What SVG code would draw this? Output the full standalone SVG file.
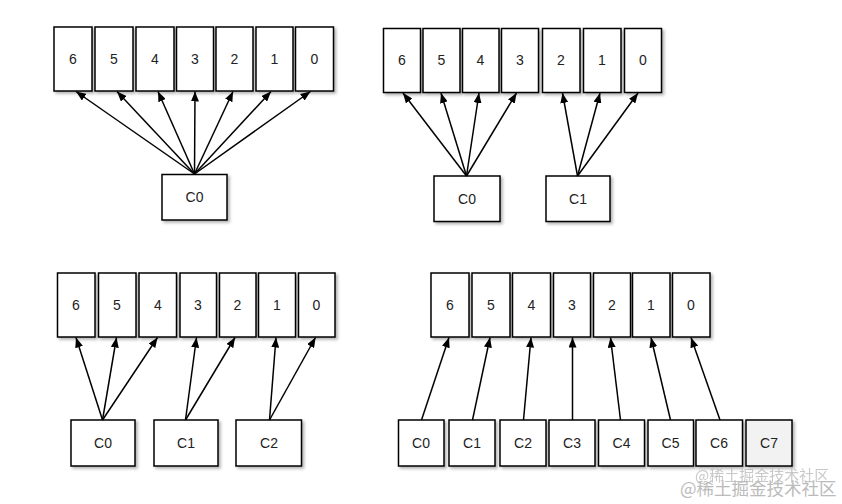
<svg xmlns="http://www.w3.org/2000/svg" width="842" height="504" viewBox="0 0 842 504">
<defs>
<filter id="sh" x="-20%" y="-20%" width="150%" height="150%">
<feDropShadow dx="2" dy="2" stdDeviation="1.5" flood-color="#000" flood-opacity="0.3"/>
</filter>
<marker id="ah" viewBox="0 0 10 8" refX="10" refY="4" markerWidth="10" markerHeight="8" markerUnits="userSpaceOnUse" orient="auto">
<path d="M0,0 L10,4 L0,8 Z" fill="#000"/>
</marker>
</defs>
<style>
.b{fill:#fff;stroke:#000;stroke-width:1.5;filter:url(#sh)}
.g{fill:#f2f2f2;stroke:#000;stroke-width:1.5;filter:url(#sh)}
.t{font-family:"Liberation Sans",Arial,sans-serif;font-size:14px;fill:#222;text-anchor:middle}
.c line{stroke:#000;stroke-width:1.5;marker-end:url(#ah)}
.w{font-family:"Noto Sans CJK SC",sans-serif;fill:#bbb}
</style>
<rect width="842" height="504" fill="#fff"/>

<!-- Panel 1 -->
<g id="p1-6"><rect class="b" x="54" y="27" width="38" height="64"/><text class="t" x="73" y="64">6</text></g>
<g id="p1-5"><rect class="b" x="95" y="27" width="38" height="64"/><text class="t" x="114" y="64">5</text></g>
<g id="p1-4"><rect class="b" x="136" y="27" width="38" height="64"/><text class="t" x="155" y="64">4</text></g>
<g id="p1-3"><rect class="b" x="176.5" y="27" width="37" height="64"/><text class="t" x="195" y="64">3</text></g>
<g id="p1-2"><rect class="b" x="216" y="27" width="37" height="64"/><text class="t" x="234.5" y="64">2</text></g>
<g id="p1-1"><rect class="b" x="256" y="27" width="37" height="64"/><text class="t" x="274.5" y="64">1</text></g>
<g id="p1-0"><rect class="b" x="295.5" y="27" width="38" height="64"/><text class="t" x="314.5" y="64">0</text></g>
<g id="p1-C0"><rect class="b" x="162" y="174.5" width="65" height="45.5"/><text class="t" x="194.5" y="202">C0</text></g>

<!-- Panel 2 -->
<g id="p2-6"><rect class="b" x="383.5" y="28.5" width="37" height="64"/><text class="t" x="402" y="65">6</text></g>
<g id="p2-5"><rect class="b" x="423" y="28.5" width="37" height="64"/><text class="t" x="441.5" y="65">5</text></g>
<g id="p2-4"><rect class="b" x="462.5" y="28.5" width="36.5" height="64"/><text class="t" x="480.5" y="65">4</text></g>
<g id="p2-3"><rect class="b" x="501.5" y="28.5" width="37" height="64"/><text class="t" x="520" y="65">3</text></g>
<g id="p2-2"><rect class="b" x="542.5" y="28.5" width="37.5" height="64"/><text class="t" x="561" y="65">2</text></g>
<g id="p2-1"><rect class="b" x="583.5" y="28.5" width="37.5" height="64"/><text class="t" x="602" y="65">1</text></g>
<g id="p2-0"><rect class="b" x="624.5" y="28.5" width="37" height="64"/><text class="t" x="643" y="65">0</text></g>
<g id="p2-C0"><rect class="b" x="434" y="176" width="66" height="45.5"/><text class="t" x="467" y="204">C0</text></g>
<g id="p2-C1"><rect class="b" x="546" y="176" width="64" height="45.5"/><text class="t" x="578" y="204">C1</text></g>

<!-- Panel 3 -->
<g id="p3-6"><rect class="b" x="57.5" y="273" width="37.5" height="64"/><text class="t" x="76" y="310">6</text></g>
<g id="p3-5"><rect class="b" x="98.5" y="273" width="37.5" height="64"/><text class="t" x="117" y="310">5</text></g>
<g id="p3-4"><rect class="b" x="139" y="273" width="37.5" height="64"/><text class="t" x="158" y="310">4</text></g>
<g id="p3-3"><rect class="b" x="180" y="273" width="36.5" height="64"/><text class="t" x="198" y="310">3</text></g>
<g id="p3-2"><rect class="b" x="219.5" y="273" width="36.5" height="64"/><text class="t" x="237.5" y="310">2</text></g>
<g id="p3-1"><rect class="b" x="258.5" y="273" width="37" height="64"/><text class="t" x="277" y="310">1</text></g>
<g id="p3-0"><rect class="b" x="298.5" y="273" width="36.5" height="64"/><text class="t" x="316.5" y="310">0</text></g>
<g id="p3-C0"><rect class="b" x="71" y="420" width="64" height="46"/><text class="t" x="103" y="448">C0</text></g>
<g id="p3-C1"><rect class="b" x="154" y="420" width="64" height="46"/><text class="t" x="186" y="448">C1</text></g>
<g id="p3-C2"><rect class="b" x="236" y="420" width="65.5" height="46"/><text class="t" x="269" y="448">C2</text></g>

<!-- Panel 4 -->
<g id="p4-6"><rect class="b" x="431" y="273" width="38" height="64"/><text class="t" x="450" y="310">6</text></g>
<g id="p4-5"><rect class="b" x="472" y="273" width="38" height="64"/><text class="t" x="491" y="310">5</text></g>
<g id="p4-4"><rect class="b" x="512.5" y="273" width="38" height="64"/><text class="t" x="531.5" y="310">4</text></g>
<g id="p4-3"><rect class="b" x="553.5" y="273" width="37" height="64"/><text class="t" x="572" y="310">3</text></g>
<g id="p4-2"><rect class="b" x="593.5" y="273" width="37" height="64"/><text class="t" x="612" y="310">2</text></g>
<g id="p4-1"><rect class="b" x="632.5" y="273" width="37.5" height="64"/><text class="t" x="651" y="310">1</text></g>
<g id="p4-0"><rect class="b" x="672.5" y="273" width="37.5" height="64"/><text class="t" x="691" y="310">0</text></g>
<g id="p4-C0"><rect class="b" x="398.5" y="420" width="45.5" height="46"/><text class="t" x="421" y="448">C0</text></g>
<g id="p4-C1"><rect class="b" x="449" y="420" width="46" height="46"/><text class="t" x="472" y="448">C1</text></g>
<g id="p4-C2"><rect class="b" x="500" y="420" width="46" height="46"/><text class="t" x="523" y="448">C2</text></g>
<g id="p4-C3"><rect class="b" x="549" y="420" width="46" height="46"/><text class="t" x="572" y="448">C3</text></g>
<g id="p4-C4"><rect class="b" x="598.5" y="420" width="46" height="46"/><text class="t" x="621.5" y="448">C4</text></g>
<g id="p4-C5"><rect class="b" x="648" y="420" width="45.5" height="46"/><text class="t" x="670.5" y="448">C5</text></g>
<g id="p4-C6"><rect class="b" x="696" y="420" width="46.5" height="46"/><text class="t" x="719" y="448">C6</text></g>
<g id="p4-C7"><rect class="g" x="746" y="420" width="46" height="46"/><text class="t" x="769" y="448">C7</text></g>

<g id="connectors" class="c">
<line x1="194.5" y1="174" x2="76" y2="91.5"/>
<line x1="194.5" y1="174" x2="117" y2="91.5"/>
<line x1="194.5" y1="174" x2="158" y2="91.5"/>
<line x1="194.5" y1="174" x2="195" y2="91.5"/>
<line x1="194.5" y1="174" x2="233" y2="91.5"/>
<line x1="194.5" y1="174" x2="271" y2="91.5"/>
<line x1="194.5" y1="174" x2="310.5" y2="91.5"/>

<line x1="466.5" y1="176" x2="403" y2="93"/>
<line x1="466.5" y1="176" x2="441" y2="93"/>
<line x1="466.5" y1="176" x2="479" y2="93"/>
<line x1="466.5" y1="176" x2="516.5" y2="93"/>
<line x1="577.5" y1="176" x2="562.5" y2="93"/>
<line x1="577.5" y1="176" x2="600" y2="93"/>
<line x1="577.5" y1="176" x2="638" y2="93"/>

<line x1="102.5" y1="420" x2="76" y2="337.5"/>
<line x1="102.5" y1="420" x2="116.5" y2="337.5"/>
<line x1="102.5" y1="420" x2="157.5" y2="337.5"/>
<line x1="185.5" y1="420" x2="196.5" y2="337.5"/>
<line x1="185.5" y1="420" x2="235" y2="337.5"/>
<line x1="269.5" y1="420" x2="276" y2="337.5"/>
<line x1="269.5" y1="420" x2="315.5" y2="337.5"/>

<line x1="421.5" y1="420" x2="449" y2="337.5"/>
<line x1="472.5" y1="420" x2="490" y2="337.5"/>
<line x1="523.5" y1="420" x2="531" y2="337.5"/>
<line x1="572.5" y1="420" x2="572.5" y2="337.5"/>
<line x1="620.5" y1="420" x2="610.5" y2="337.5"/>
<line x1="670.5" y1="420" x2="651" y2="337.5"/>
<line x1="720" y1="420" x2="691" y2="337.5"/>
</g>

<text class="w" x="695" y="481" font-size="15" opacity="0.8">@稀土掘金技术社区</text>
<text class="w" x="680" y="495" font-size="17.5">@稀土掘金技术社区</text>
</svg>
